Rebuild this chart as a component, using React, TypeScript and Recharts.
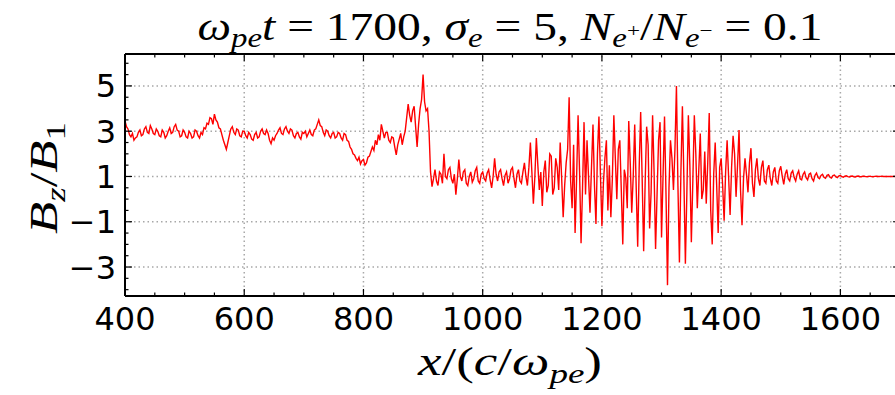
import { LineChart, Line, XAxis, YAxis, ReferenceLine } from 'recharts'

// B_z/B_1, 2.5 units of x per sample, one array per 100 units
const xStep = 2.5
const seg400 = [3.45, 3.2, 3.1, 2.85, 2.75, 2.9, 2.6, 2.7, 2.75, 2.95, 3.05, 2.8, 2.85, 3.1, 3.2, 2.95, 2.9, 3.25, 3.1, 2.9, 2.85, 3.1, 3.0, 2.8, 2.75, 3.05, 2.95, 2.7, 2.8, 3.0, 3.15, 2.9, 2.95, 3.2, 3.3, 3.05, 3.0, 2.75, 2.8, 3.05]
const seg500 = [2.95, 2.75, 2.7, 3.0, 2.9, 2.7, 2.75, 3.05, 3.0, 2.8, 2.7, 2.95, 2.85, 3.15, 3.1, 3.35, 3.3, 3.6, 3.55, 3.3, 3.75, 3.5, 3.4, 3.15, 3.1, 2.85, 2.6, 2.4, 2.2, 2.5, 2.8, 3.1, 3.2, 2.95, 2.85, 3.1, 3.05, 2.8, 2.75, 3.0]
const seg600 = [3.0, 2.8, 2.7, 2.95, 2.85, 2.65, 2.6, 2.85, 2.95, 2.7, 2.75, 3.0, 3.1, 2.9, 2.85, 3.05, 2.9, 2.6, 2.45, 2.7, 2.6, 2.8, 2.9, 3.05, 3.15, 2.9, 2.85, 3.1, 3.2, 3.0, 2.9, 3.1, 3.05, 2.8, 2.7, 2.9, 2.95, 2.75, 2.65, 2.95]
const seg700 = [2.9, 3.0, 2.75, 2.9, 3.05, 2.85, 2.8, 3.05, 3.1, 3.3, 3.5, 3.25, 3.2, 2.95, 2.8, 3.05, 3.0, 2.8, 2.7, 2.9, 2.95, 2.7, 2.75, 2.95, 2.9, 2.7, 2.6, 2.9, 2.85, 2.6, 2.55, 2.3, 2.2, 2.0, 1.95, 1.8, 1.7, 1.85, 1.55, 1.7]
const seg800 = [1.75, 1.5, 1.6, 1.85, 1.9, 2.1, 2.3, 2.15, 2.6, 2.4, 2.85, 2.6, 3.3, 3.0, 2.7, 2.95, 2.95, 2.6, 2.5, 2.75, 2.7, 2.3, 1.95, 2.4, 2.65, 2.9, 2.4, 2.75, 3.0, 3.6, 4.2, 3.7, 3.4, 3.9, 4.1, 3.2, 2.3, 3.3, 4.0, 4.4]
const seg900 = [5.5, 4.3, 3.9, 4.0, 3.0, 1.2, 0.55, 0.9, 1.3, 0.8, 0.6, 1.2, 1.1, 0.7, 2.0, 1.0, 0.9, 1.3, 1.4, 0.9, 0.7, 1.1, 0.2, 0.9, 1.75, 1.0, 0.8, 1.2, 1.3, 0.7, 0.6, 1.0, 1.2, 0.75, 0.9, 1.25, 1.4, 0.8, 0.7, 1.1]
const seg1000 = [1.2, 0.9, 0.8, 1.15, 1.3, 0.85, 0.5, 1.0, 1.8, 1.1, 0.8, 1.2, 1.3, 0.9, 0.6, 1.05, 1.2, 0.7, 0.9, 1.3, 1.4, 0.9, 0.5, 1.1, 1.3, 0.8, 0.7, 1.2, 1.6, 1.0, 0.6, 1.4, 2.5, 1.2, -0.2, 1.0, 2.7, 1.5, 0.4, 1.2]
const seg1100 = [-0.3, 1.2, 1.7, 0.3, 0.6, 2.0, 1.9, 0.2, 0.5, 1.8, 1.4, 0.4, 2.5, 0.9, -0.8, 0.6, 1.6, 2.2, 4.5, 0.8, -0.4, 2.4, -1.5, 0.9, 3.7, 1.2, -1.95, 0.5, 3.4, 0.2, 2.6, 1.0, -0.6, 1.4, 3.3, 0.6, -1.1, 2.0, 3.65, 1.1]
const seg1200 = [-1.2, 0.7, 1.8, 2.6, -0.5, 1.5, -0.8, 0.9, 3.7, 1.8, 0.0, 2.2, 2.6, 0.4, -2.0, 1.3, 0.95, -0.4, 3.45, 1.6, -0.6, 1.0, 3.3, 0.5, -2.1, 1.4, 3.85, 0.9, -2.3, 0.7, 3.2, 2.4, -1.3, 0.3, 3.7, 1.2, -2.2, 0.2, 2.6, 3.4]
const seg1300 = [-1.7, 1.0, 3.65, 0.2, -3.8, 0.5, 2.6, 1.8, 0.4, 2.2, 5.0, 0.6, -2.8, 1.2, 4.1, 0.9, -2.85, 0.3, 3.7, 1.5, -1.9, 0.8, 3.7, 2.0, -0.4, 1.3, 2.9, 0.0, 0.4, 2.1, -0.2, 1.6, 3.8, -0.5, -2.0, 1.1, 2.5, 0.6, -1.5, 1.4]
const seg1400 = [1.8, 0.6, -0.95, 1.2, 2.6, 1.0, -0.7, 1.4, 2.8, 2.0, 0.1, 1.5, 3.05, 0.4, -1.15, 0.9, 1.8, 1.1, 0.3, 1.6, 2.25, 0.7, 0.1, 1.3, 1.8, 0.9, 0.6, 1.4, 1.7, 0.8, 0.7, 1.3, 1.5, 0.9, 0.6, 1.2, 1.4, 0.8, 0.7, 1.25]
const seg1500 = [1.45, 1.0, 0.65, 1.1, 1.3, 0.9, 0.8, 1.15, 1.25, 0.95, 0.8, 1.1, 1.25, 0.9, 0.85, 1.1, 1.2, 0.95, 0.85, 1.1, 1.15, 0.9, 0.8, 1.05, 1.15, 0.95, 0.9, 1.05, 1.1, 0.96, 0.92, 1.05, 1.08, 0.97, 0.93, 1.04, 1.06, 0.98, 0.95, 1.03]
const seg1600 = [1.04, 0.99, 0.97, 1.01, 1.03, 0.99, 0.98, 1.01, 1.02, 0.99, 0.98, 1.01, 1.02, 0.99, 0.99, 1.01, 1.01, 0.995, 0.99, 1.005, 1.01, 0.995, 0.99, 1.005, 1.01, 1.0, 1.0, 1.005, 1.01, 1.0, 1.0, 1.0, 1.0, 1.0, 1.0, 1.0, 1.0, 1.0, 1.0, 1.0, 1.0]

const segments = [seg400, seg500, seg600, seg700, seg800, seg900, seg1000, seg1100, seg1200, seg1300, seg1400, seg1500, seg1600]
const data = segments.flatMap((seg, s) => seg.map((v, i) => ({ x: 400 + s * 100 + i * xStep, bz: v })))

const xTicks = Array.from({ length: 27 }, (_, i) => 400 + i * 50)
const yTicks = Array.from({ length: 21 }, (_, i) => -4 + i * 0.5)
const xGrid = [600, 800, 1000, 1200, 1400, 1600]
const yGrid = [-3, -1, 1, 3, 5]

const isMajorX = (v: number) => v % 200 === 0
const isMajorY = (v: number) => Math.abs(v % 2) === 1
const fmt = (v: number) => (v < 0 ? '\u2212' + Math.abs(v) : String(v))

const tickFont = { fontFamily: 'DejaVu Sans', fontSize: 32, fill: '#000' }

const BottomTick = ({ x, y, payload }: any) => {
  const major = isMajorX(payload.value)
  return (
    <g>
      <line x1={x} y1={y} x2={x} y2={y - (major ? 7 : 3.5)} stroke="#000" strokeWidth={1.2} />
      {major && <text x={x} y={y + 34} textAnchor="middle" {...tickFont}>{payload.value}</text>}
    </g>
  )
}
const TopTick = ({ x, y, payload }: any) => (
  <line x1={x} y1={y} x2={x} y2={y + (isMajorX(payload.value) ? 7 : 3.5)} stroke="#000" strokeWidth={1.2} />
)
const LeftTick = ({ x, y, payload }: any) => {
  const major = isMajorY(payload.value)
  return (
    <g>
      <line x1={x} y1={y} x2={x + (major ? 7 : 3.5)} y2={y} stroke="#000" strokeWidth={1.2} />
      {major && <text x={x - 9} y={y} dy="0.36em" textAnchor="end" {...tickFont}>{fmt(payload.value)}</text>}
    </g>
  )
}
const RightTick = ({ x, y, payload }: any) => (
  <line x1={x} y1={y} x2={x - (isMajorY(payload.value) ? 7 : 3.5)} y2={y} stroke="#000" strokeWidth={1.2} />
)

const spine = { stroke: '#000', strokeWidth: 2 }
const grid = { stroke: '#a8a8a8', strokeDasharray: '1.5 3', strokeWidth: 1.5 }

export default function App() {
  return (
    <div style={{ position: 'absolute', left: 0, top: 0, width: 895, height: 395, overflow: 'hidden', background: '#fff' }}>
      <LineChart width={910} height={395} data={data} margin={{ top: 53, right: 9, bottom: 98, left: 124 }}>
        <XAxis xAxisId="b" dataKey="x" type="number" domain={[400, 1700]} allowDataOverflow ticks={xTicks}
          interval={0} height={1} tickSize={0} tickMargin={0} tickLine={false} axisLine={spine} tick={<BottomTick />} />
        <XAxis xAxisId="t" orientation="top" dataKey="x" type="number" domain={[400, 1700]} allowDataOverflow ticks={xTicks}
          interval={0} height={1} tickSize={0} tickMargin={0} tickLine={false} axisLine={spine} tick={<TopTick />} />
        <YAxis yAxisId="l" type="number" domain={[-4.28, 6.41]} allowDataOverflow ticks={yTicks}
          interval={0} width={1} tickSize={0} tickMargin={0} tickLine={false} axisLine={spine} tick={<LeftTick />} />
        <YAxis yAxisId="r" orientation="right" type="number" domain={[-4.28, 6.41]} allowDataOverflow ticks={yTicks}
          interval={0} width={1} tickSize={0} tickMargin={0} tickLine={false} axisLine={spine} tick={<RightTick />} />
        {xGrid.map((v) => (
          <ReferenceLine key={'gx' + v} xAxisId="b" yAxisId="l" x={v} {...grid} />
        ))}
        {yGrid.map((v) => (
          <ReferenceLine key={'gy' + v} xAxisId="b" yAxisId="l" y={v} {...grid} />
        ))}
        <Line xAxisId="b" yAxisId="l" dataKey="bz" type="linear" stroke="#ff0000" strokeWidth={1.4}
          dot={false} isAnimationActive={false} />
      </LineChart>
      <svg width={895} height={395} style={{ position: 'absolute', left: 0, top: 0, pointerEvents: 'none' }}>
        <text x={510} y={40} textAnchor="middle" fontFamily="Liberation Serif" fontSize={39} fill="#000"
          textLength={625} lengthAdjust="spacingAndGlyphs">
          <tspan fontStyle="italic">ω</tspan>
          <tspan fontStyle="italic" fontSize={27} dy={7}>pe</tspan>
          <tspan fontStyle="italic" dy={-7}>t</tspan>
          <tspan> = 1700, </tspan>
          <tspan fontStyle="italic">σ</tspan>
          <tspan fontStyle="italic" fontSize={27} dy={7}>e</tspan>
          <tspan dy={-7}> = 5, </tspan>
          <tspan fontStyle="italic">N</tspan>
          <tspan fontStyle="italic" fontSize={27} dy={7}>e</tspan>
          <tspan fontSize={19} dy={-10}>+</tspan>
          <tspan dy={3}>/</tspan>
          <tspan fontStyle="italic">N</tspan>
          <tspan fontStyle="italic" fontSize={27} dy={7}>e</tspan>
          <tspan fontSize={19} dy={-10}>−</tspan>
          <tspan dy={3}> = 0.1</tspan>
        </text>
        <text transform="translate(57,178) rotate(-90)" textAnchor="middle" fontFamily="Liberation Serif" fontSize={40} fill="#000"
          textLength={112} lengthAdjust="spacingAndGlyphs">
          <tspan fontStyle="italic">B</tspan>
          <tspan fontStyle="italic" fontSize={28} dy={8}>z</tspan>
          <tspan dy={-8}>/</tspan>
          <tspan fontStyle="italic">B</tspan>
          <tspan fontSize={28} dy={8}>1</tspan>
        </text>
        <text x={510} y={375} textAnchor="middle" fontFamily="Liberation Serif" fontSize={40} fill="#000"
          textLength={184} lengthAdjust="spacingAndGlyphs">
          <tspan fontStyle="italic">x</tspan>
          <tspan>/(</tspan>
          <tspan fontStyle="italic">c</tspan>
          <tspan>/</tspan>
          <tspan fontStyle="italic">ω</tspan>
          <tspan fontStyle="italic" fontSize={28} dy={8}>pe</tspan>
          <tspan dy={-8}>)</tspan>
        </text>
      </svg>
    </div>
  )
}
